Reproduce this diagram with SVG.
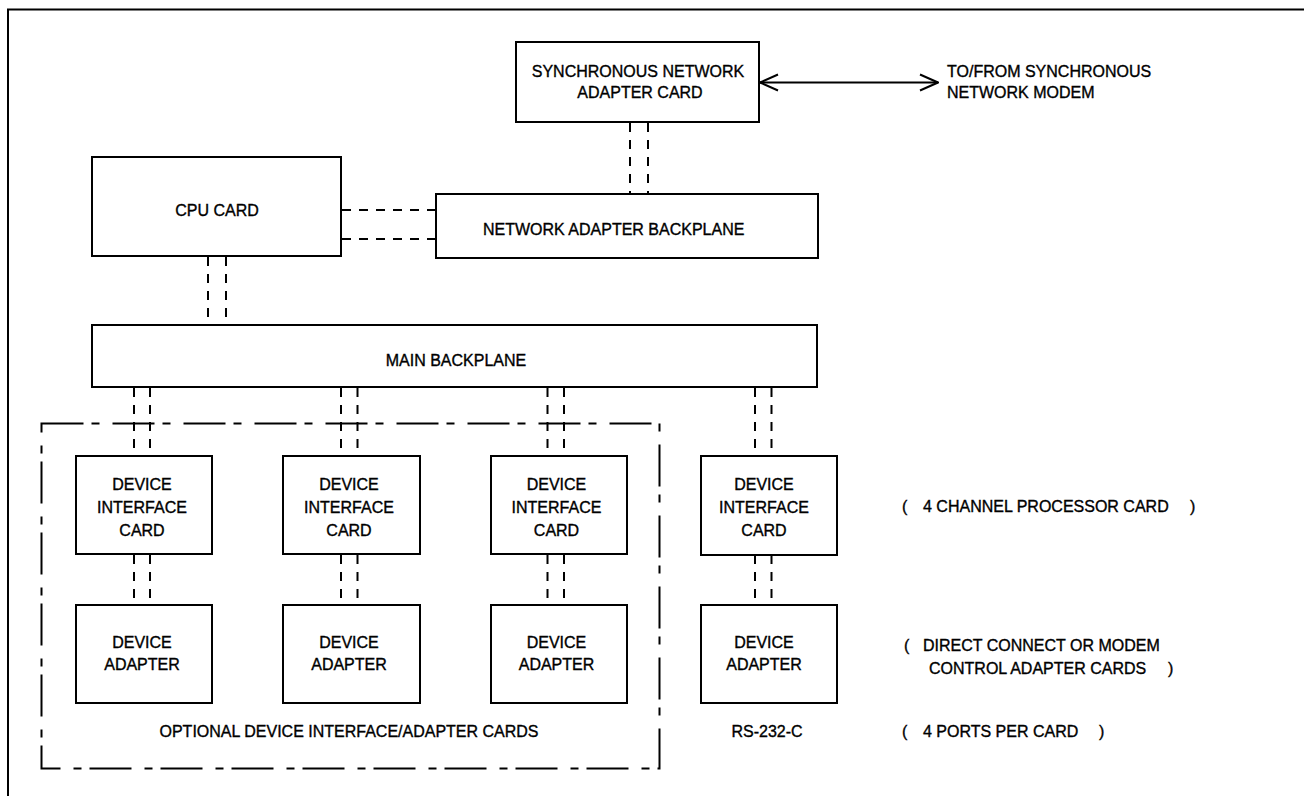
<svg xmlns="http://www.w3.org/2000/svg" width="1304" height="796" viewBox="0 0 1304 796">
  <style>
    .box { fill: #fff; stroke: #000; stroke-width: 2; }
    .bus { fill: none; stroke: #000; stroke-width: 2; stroke-dasharray: 9 8; }
    .frame { fill: none; stroke: #000; stroke-width: 2; }
    .group { fill: none; stroke: #000; stroke-width: 2; stroke-dasharray: 42 8 8 13; }
    text { font-family: "Liberation Sans", Arial, sans-serif; font-size: 16px; fill: #000; stroke: #000; stroke-width: 0.35; }
    .c { text-anchor: middle; }
  </style>
  <defs>
    <marker id="open" viewBox="0 0 20 20" refX="19" refY="10" markerWidth="20" markerHeight="20" markerUnits="userSpaceOnUse" orient="auto-start-reverse">
      <path d="M1,2 L19,10 L1,18" fill="none" stroke="#000" stroke-width="2"/>
    </marker>
  </defs>

  <rect width="1304" height="796" fill="#fff"/>

  <!-- page frame -->
  <path class="frame" d="M8,796 L8,9.5 L1304,9.5"/>

  <!-- dashed group around the optional cards -->
  <rect id="optional-group" class="group" x="41.5" y="423.5" width="618" height="345"/>

  <g id="connectors">
    <!-- sync card to network adapter backplane -->
    <line class="bus" x1="630" y1="123" x2="630" y2="194"/>
    <line class="bus" x1="648" y1="123" x2="648" y2="194"/>
    <!-- CPU card to network adapter backplane -->
    <line class="bus" x1="342" y1="210" x2="436" y2="210"/>
    <line class="bus" x1="342" y1="239" x2="436" y2="239"/>
    <!-- CPU card to main backplane -->
    <line class="bus" x1="208" y1="257" x2="208" y2="325"/>
    <line class="bus" x1="226" y1="257" x2="226" y2="325"/>
    <!-- main backplane to interface cards -->
    <line class="bus" x1="134" y1="388" x2="134" y2="456"/>
    <line class="bus" x1="150" y1="388" x2="150" y2="456"/>
    <line class="bus" x1="341" y1="388" x2="341" y2="456"/>
    <line class="bus" x1="357.5" y1="388" x2="357.5" y2="456"/>
    <line class="bus" x1="547.5" y1="388" x2="547.5" y2="456"/>
    <line class="bus" x1="564" y1="388" x2="564" y2="456"/>
    <line class="bus" x1="755" y1="388" x2="755" y2="456"/>
    <line class="bus" x1="771.5" y1="388" x2="771.5" y2="456"/>
    <!-- interface cards to device adapters -->
    <line class="bus" x1="134" y1="555" x2="134" y2="605"/>
    <line class="bus" x1="150" y1="555" x2="150" y2="605"/>
    <line class="bus" x1="341" y1="555" x2="341" y2="605"/>
    <line class="bus" x1="357.5" y1="555" x2="357.5" y2="605"/>
    <line class="bus" x1="547.5" y1="555" x2="547.5" y2="605"/>
    <line class="bus" x1="564" y1="555" x2="564" y2="605"/>
    <line class="bus" x1="755" y1="555" x2="755" y2="605"/>
    <line class="bus" x1="771.5" y1="555" x2="771.5" y2="605"/>
    <!-- link to the synchronous network modem -->
    <line x1="760" y1="82.5" x2="938" y2="82.5" stroke="#000" stroke-width="2" marker-start="url(#open)" marker-end="url(#open)"/>
  </g>

  <g id="sync-card">
    <rect class="box" x="516" y="42" width="243" height="80"/>
    <text class="c" x="638" y="77">SYNCHRONOUS NETWORK</text>
    <text class="c" x="640" y="98">ADAPTER CARD</text>
  </g>

  <g id="modem-label">
    <text x="947" y="77">TO/FROM SYNCHRONOUS</text>
    <text x="947" y="98">NETWORK MODEM</text>
  </g>

  <g id="cpu-card">
    <rect class="box" x="92" y="157" width="249" height="99"/>
    <text class="c" x="217" y="216">CPU CARD</text>
  </g>

  <g id="network-adapter-backplane">
    <rect class="box" x="436" y="194" width="382" height="64"/>
    <text x="483" y="235">NETWORK ADAPTER BACKPLANE</text>
  </g>

  <g id="main-backplane">
    <rect class="box" x="92" y="325" width="725" height="62"/>
    <text class="c" x="456" y="366">MAIN BACKPLANE</text>
  </g>

  <g id="interface-card-1">
    <rect class="box" x="76" y="456" width="136" height="98"/>
    <text class="c" x="142" y="490">DEVICE</text>
    <text class="c" x="142" y="513">INTERFACE</text>
    <text class="c" x="142" y="536">CARD</text>
  </g>
  <g id="interface-card-2">
    <rect class="box" x="283" y="456" width="137" height="98"/>
    <text class="c" x="349" y="490">DEVICE</text>
    <text class="c" x="349" y="513">INTERFACE</text>
    <text class="c" x="349" y="536">CARD</text>
  </g>
  <g id="interface-card-3">
    <rect class="box" x="491" y="456" width="136" height="98"/>
    <text class="c" x="556.5" y="490">DEVICE</text>
    <text class="c" x="556.5" y="513">INTERFACE</text>
    <text class="c" x="556.5" y="536">CARD</text>
  </g>
  <g id="interface-card-4">
    <rect class="box" x="701" y="456" width="136" height="99"/>
    <text class="c" x="764" y="490">DEVICE</text>
    <text class="c" x="764" y="513">INTERFACE</text>
    <text class="c" x="764" y="536">CARD</text>
  </g>

  <g id="device-adapter-1">
    <rect class="box" x="76" y="605" width="136" height="98"/>
    <text class="c" x="142" y="648">DEVICE</text>
    <text class="c" x="142" y="670">ADAPTER</text>
  </g>
  <g id="device-adapter-2">
    <rect class="box" x="283" y="605" width="137" height="98"/>
    <text class="c" x="349" y="648">DEVICE</text>
    <text class="c" x="349" y="670">ADAPTER</text>
  </g>
  <g id="device-adapter-3">
    <rect class="box" x="491" y="605" width="136" height="98"/>
    <text class="c" x="556.5" y="648">DEVICE</text>
    <text class="c" x="556.5" y="670">ADAPTER</text>
  </g>
  <g id="device-adapter-4">
    <rect class="box" x="701" y="605" width="136" height="98"/>
    <text class="c" x="764" y="648">DEVICE</text>
    <text class="c" x="764" y="670">ADAPTER</text>
  </g>

  <g id="notes">
    <text class="c" x="349" y="737">OPTIONAL DEVICE INTERFACE/ADAPTER CARDS</text>
    <text class="c" x="767" y="737">RS-232-C</text>
    <text y="512"><tspan x="902">(</tspan><tspan x="923">4 CHANNEL PROCESSOR CARD</tspan><tspan x="1190">)</tspan></text>
    <text y="651"><tspan x="904">(</tspan><tspan x="923">DIRECT CONNECT OR MODEM</tspan></text>
    <text y="674"><tspan x="929">CONTROL ADAPTER CARDS</tspan><tspan x="1168">)</tspan></text>
    <text y="737"><tspan x="902">(</tspan><tspan x="923">4 PORTS PER CARD</tspan><tspan x="1099">)</tspan></text>
  </g>
</svg>
